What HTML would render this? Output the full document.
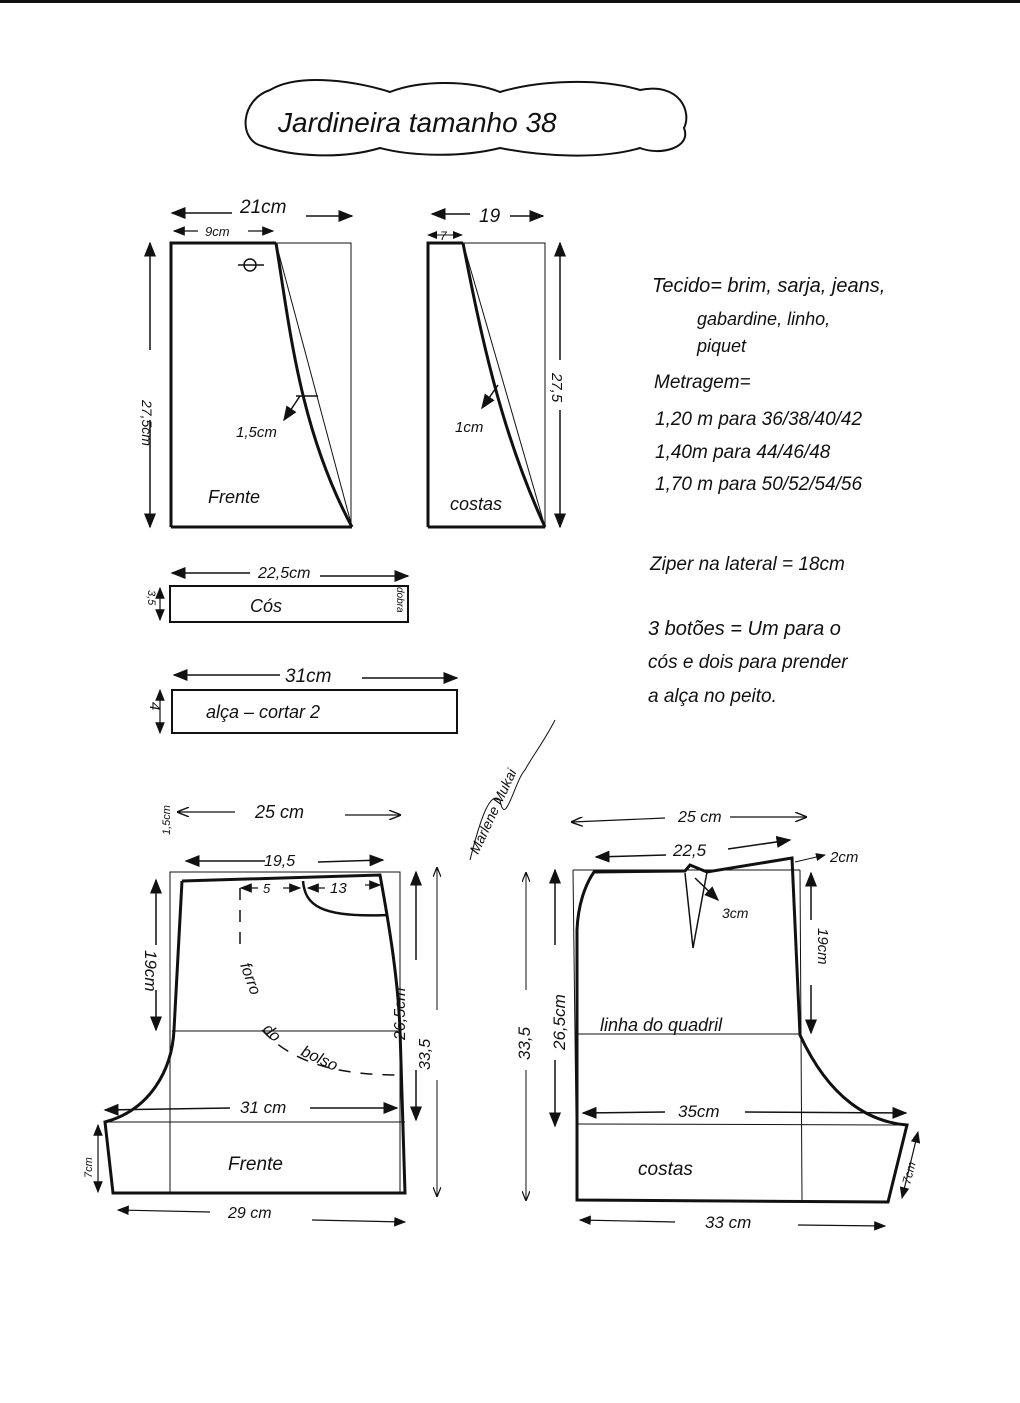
<!DOCTYPE html>
<html><head><meta charset="utf-8"><style>
html,body{margin:0;padding:0;background:#fff;}
svg{display:block}
text{font-family:"Liberation Sans",sans-serif;fill:#111;}
</style></head><body>
<svg width="1020" height="1403" viewBox="0 0 1020 1403" xmlns="http://www.w3.org/2000/svg">
<defs>
<marker id="a" markerWidth="10" markerHeight="8" refX="9" refY="4" orient="auto-start-reverse"><path d="M0,0 L10,4 L0,8 z" fill="#111"/></marker>
<marker id="o" markerWidth="10" markerHeight="8" refX="9" refY="4" orient="auto-start-reverse"><path d="M0,0 L10,4 L0,8" fill="none" stroke="#111" stroke-width="1.2"/></marker>
</defs>
<rect x="0" y="0" width="1020" height="3" fill="#111"/>
<path d="M270,90 C300,72 360,82 390,92 C420,80 470,80 500,92 C540,80 600,78 640,90 C680,82 692,112 684,128 C692,148 660,156 640,148 C600,160 540,156 500,148 C460,158 410,156 380,148 C340,160 290,156 262,146 C238,140 240,100 270,90 Z" fill="none" stroke="#111" stroke-width="2"/>
<text x="278" y="132" font-size="28" font-style="italic">Jardineira  tamanho 38</text>

<g stroke="#111" fill="none">
<rect x="171" y="243" width="180" height="284" stroke-width="1"/>
<path d="M171,527 L171,243 L276,243" stroke-width="3"/>
<line x1="171" y1="527" x2="352" y2="527" stroke-width="3"/>
<path d="M276,243 C290,330 300,430 352,527" stroke-width="3"/>
<line x1="276" y1="243" x2="352" y2="527" stroke-width="1"/>
<line x1="296" y1="396" x2="318" y2="396" stroke-width="1.5"/>
<line x1="300" y1="396" x2="284" y2="420" stroke-width="1.5" marker-end="url(#a)"/>
<circle cx="250" cy="265" r="6" stroke-width="1.5"/>
<line x1="238" y1="265" x2="264" y2="265" stroke-width="1.5"/>
<line x1="172" y1="213" x2="232" y2="213" stroke-width="1.5" marker-start="url(#a)"/>
<line x1="306" y1="216" x2="352" y2="216" stroke-width="1.5" marker-end="url(#a)"/>
<line x1="174" y1="231" x2="198" y2="231" stroke-width="1.2" marker-start="url(#a)"/>
<line x1="248" y1="231" x2="273" y2="231" stroke-width="1.2" marker-end="url(#a)"/>
<line x1="150" y1="243" x2="150" y2="350" stroke-width="1.5" marker-start="url(#a)"/>
<line x1="150" y1="420" x2="150" y2="527" stroke-width="1.5" marker-end="url(#a)"/>
<rect x="428" y="243" width="117" height="284" stroke-width="1"/>
<path d="M428,527 L428,243 L463,243" stroke-width="3"/>
<line x1="428" y1="527" x2="545" y2="527" stroke-width="3"/>
<path d="M463,243 C480,330 500,430 545,527" stroke-width="3"/>
<line x1="463" y1="243" x2="545" y2="527" stroke-width="1"/>
<line x1="498" y1="385" x2="482" y2="408" stroke-width="1.5" marker-end="url(#a)"/>
<line x1="432" y1="214" x2="470" y2="214" stroke-width="1.5" marker-start="url(#a)"/>
<line x1="510" y1="216" x2="543" y2="216" stroke-width="1.5" marker-end="url(#a)"/>
<line x1="428" y1="235" x2="462" y2="235" stroke-width="1" marker-start="url(#a)" marker-end="url(#a)"/>
<line x1="560" y1="243" x2="560" y2="360" stroke-width="1.5" marker-start="url(#a)"/>
<line x1="560" y1="410" x2="560" y2="527" stroke-width="1.5" marker-end="url(#a)"/>
<rect x="170" y="586" width="238" height="36" stroke-width="2"/>
<line x1="172" y1="573" x2="250" y2="573" stroke-width="1.5" marker-start="url(#a)"/>
<line x1="320" y1="576" x2="408" y2="576" stroke-width="1.5" marker-end="url(#a)"/>
<line x1="160" y1="588" x2="160" y2="620" stroke-width="1.2" marker-start="url(#a)" marker-end="url(#a)"/>
<rect x="172" y="690" width="285" height="43" stroke-width="2"/>
<line x1="174" y1="675" x2="280" y2="675" stroke-width="1.5" marker-start="url(#a)"/>
<line x1="362" y1="678" x2="457" y2="678" stroke-width="1.5" marker-end="url(#a)"/>
<line x1="160" y1="690" x2="160" y2="733" stroke-width="1.2" marker-start="url(#a)" marker-end="url(#a)"/>

<rect x="170" y="872" width="230" height="321" stroke-width="1"/>
<line x1="172" y1="1031" x2="400" y2="1031" stroke-width="1"/>
<line x1="105" y1="1122" x2="405" y2="1122" stroke-width="1"/>
<path d="M182,881 L380,875 C390,930 398,980 400,1030 L405,1193 L113,1193 L105,1122 C150,1110 172,1070 174,1030 L182,881" stroke-width="3"/>
<path d="M303,881 C305,905 320,918 388,915" stroke-width="2.5"/>
<path d="M240,888 L240,950 M262,1030 C290,1060 330,1075 400,1075" stroke-width="1.5" stroke-dasharray="12,10"/>
<line x1="178" y1="812" x2="235" y2="812" stroke-width="1.2" marker-start="url(#o)"/>
<line x1="345" y1="815" x2="400" y2="815" stroke-width="1.2" marker-end="url(#o)"/>
<line x1="186" y1="861" x2="265" y2="861" stroke-width="1.5" marker-start="url(#a)"/>
<line x1="318" y1="862" x2="383" y2="860" stroke-width="1.5" marker-end="url(#a)"/>
<line x1="241" y1="888" x2="258" y2="888" stroke-width="1.2" marker-start="url(#a)"/>
<line x1="283" y1="888" x2="300" y2="888" stroke-width="1.2" marker-end="url(#a)"/>
<line x1="308" y1="888" x2="325" y2="888" stroke-width="1.2" marker-start="url(#a)"/>
<line x1="365" y1="885" x2="380" y2="885" stroke-width="1.2" marker-end="url(#a)"/>
<line x1="156" y1="880" x2="156" y2="945" stroke-width="1.5" marker-start="url(#a)"/>
<line x1="156" y1="990" x2="156" y2="1030" stroke-width="1.5" marker-end="url(#a)"/>
<line x1="416" y1="872" x2="416" y2="960" stroke-width="1.5" marker-start="url(#a)"/>
<line x1="416" y1="1070" x2="416" y2="1120" stroke-width="1.5" marker-end="url(#a)"/>
<line x1="437" y1="868" x2="437" y2="1010" stroke-width="1" marker-start="url(#o)"/>
<line x1="437" y1="1080" x2="437" y2="1196" stroke-width="1" marker-end="url(#o)"/>
<line x1="105" y1="1110" x2="230" y2="1108" stroke-width="1.5" marker-start="url(#a)"/>
<line x1="310" y1="1108" x2="397" y2="1108" stroke-width="1.5" marker-end="url(#a)"/>
<line x1="118" y1="1210" x2="210" y2="1212" stroke-width="1.2" marker-start="url(#a)"/>
<line x1="312" y1="1220" x2="405" y2="1222" stroke-width="1.2" marker-end="url(#a)"/>
<line x1="98" y1="1125" x2="98" y2="1192" stroke-width="1.2" marker-start="url(#a)" marker-end="url(#a)"/>

<line x1="573" y1="870" x2="800" y2="870" stroke-width="1"/>
<line x1="573" y1="870" x2="577" y2="1200" stroke-width="1"/>
<line x1="800" y1="870" x2="802" y2="1200" stroke-width="1"/>
<line x1="578" y1="1034" x2="800" y2="1034" stroke-width="1"/>
<line x1="578" y1="1124" x2="907" y2="1125" stroke-width="1"/>
<path d="M594,872 L685,871 L690,865 L707,872 L792,858 L800,1035 C830,1100 870,1122 907,1125 L888,1202 L577,1200 L577,930 C578,905 585,885 594,872 Z" stroke-width="3"/>
<path d="M685,873 L693,948 L707,872" stroke-width="1.5"/>
<line x1="695" y1="878" x2="718" y2="900" stroke-width="1.5" marker-end="url(#a)"/>
<line x1="572" y1="822" x2="665" y2="818" stroke-width="1.2" marker-start="url(#o)"/>
<line x1="730" y1="817" x2="806" y2="817" stroke-width="1.2" marker-end="url(#o)"/>
<line x1="596" y1="857" x2="666" y2="855" stroke-width="1.5" marker-start="url(#a)"/>
<line x1="728" y1="849" x2="790" y2="840" stroke-width="1.5" marker-end="url(#a)"/>
<line x1="795" y1="862" x2="825" y2="855" stroke-width="1" marker-end="url(#a)"/>
<line x1="555" y1="870" x2="555" y2="945" stroke-width="1.5" marker-start="url(#a)"/>
<line x1="555" y1="1060" x2="555" y2="1126" stroke-width="1.5" marker-end="url(#a)"/>
<line x1="526" y1="873" x2="526" y2="990" stroke-width="1" marker-start="url(#o)"/>
<line x1="526" y1="1070" x2="526" y2="1200" stroke-width="1" marker-end="url(#o)"/>
<line x1="811" y1="873" x2="811" y2="920" stroke-width="1.5" marker-start="url(#a)"/>
<line x1="811" y1="985" x2="811" y2="1033" stroke-width="1.5" marker-end="url(#a)"/>
<line x1="583" y1="1113" x2="665" y2="1112" stroke-width="1.5" marker-start="url(#a)"/>
<line x1="745" y1="1112" x2="906" y2="1113" stroke-width="1.5" marker-end="url(#a)"/>
<line x1="580" y1="1220" x2="675" y2="1222" stroke-width="1.2" marker-start="url(#a)"/>
<line x1="798" y1="1225" x2="885" y2="1226" stroke-width="1.2" marker-end="url(#a)"/>
<line x1="918" y1="1132" x2="902" y2="1198" stroke-width="1.2" marker-start="url(#a)" marker-end="url(#a)"/>
<path d="M470,860 C480,820 490,790 500,800 C505,830 515,780 525,770 C530,760 545,740 555,720" stroke-width="1"/>
</g>

<g font-style="italic">
<text x="240" y="213" font-size="19">21cm</text>
<text x="205" y="236" font-size="13">9cm</text>
<text x="236" y="437" font-size="15">1,5cm</text>
<text x="208" y="503" font-size="18">Frente</text>
<text x="142" y="400" font-size="14" transform="rotate(90 142 400)">27,5cm</text>
<text x="479" y="222" font-size="19">19</text>
<text x="440" y="240" font-size="12">7</text>
<text x="455" y="432" font-size="15">1cm</text>
<text x="450" y="510" font-size="18">costas</text>
<text x="552" y="373" font-size="15" transform="rotate(90 552 373)">27,5</text>
<text x="258" y="578" font-size="16">22,5cm</text>
<text x="250" y="612" font-size="18">Cós</text>
<text x="397" y="587" font-size="10" transform="rotate(90 397 587)">dobra</text>
<text x="148" y="590" font-size="11" transform="rotate(90 148 590)">3,5</text>
<text x="285" y="682" font-size="19">31cm</text>
<text x="206" y="718" font-size="18">alça  – cortar 2</text>
<text x="150" y="702" font-size="15" transform="rotate(90 150 702)">4</text>
<text x="652" y="292" font-size="20">Tecido= brim, sarja, jeans,</text>
<text x="697" y="325" font-size="18">gabardine, linho,</text>
<text x="697" y="352" font-size="18">piquet</text>
<text x="654" y="388" font-size="19">Metragem=</text>
<text x="655" y="425" font-size="19">1,20 m  para   36/38/40/42</text>
<text x="655" y="458" font-size="19">1,40m  para   44/46/48</text>
<text x="655" y="490" font-size="19">1,70 m  para  50/52/54/56</text>
<text x="650" y="570" font-size="19">Ziper  na  lateral = 18cm</text>
<text x="648" y="635" font-size="20">3 botões = Um  para  o</text>
<text x="648" y="668" font-size="19">cós  e  dois  para  prender</text>
<text x="648" y="702" font-size="19">a  alça  no  peito.</text>
<text x="255" y="818" font-size="18">25 cm</text>
<text x="264" y="866" font-size="16">19,5</text>
<text x="263" y="893" font-size="13">5</text>
<text x="330" y="893" font-size="15">13</text>
<text x="170" y="835" font-size="11" transform="rotate(-90 170 835)">1,5cm</text>
<text x="145" y="950" font-size="17" transform="rotate(90 145 950)">19cm</text>
<text x="240" y="965" font-size="16" transform="rotate(70 240 965)">forro</text>
<text x="262" y="1030" font-size="16" transform="rotate(45 262 1030)">do</text>
<text x="300" y="1055" font-size="16" transform="rotate(25 300 1055)">bolso</text>
<text x="405" y="1040" font-size="16" transform="rotate(-90 405 1040)">26,5cm</text>
<text x="430" y="1070" font-size="16" transform="rotate(-90 430 1070)">33,5</text>
<text x="240" y="1113" font-size="17">31 cm</text>
<text x="228" y="1170" font-size="19">Frente</text>
<text x="228" y="1218" font-size="16">29 cm</text>
<text x="92" y="1178" font-size="11" transform="rotate(-90 92 1178)">7cm</text>
<text x="678" y="822" font-size="16">25 cm</text>
<text x="673" y="856" font-size="17">22,5</text>
<text x="830" y="862" font-size="15">2cm</text>
<text x="722" y="918" font-size="14">3cm</text>
<text x="818" y="928" font-size="15" transform="rotate(90 818 928)">19cm</text>
<text x="600" y="1031" font-size="18">linha  do quadril</text>
<text x="565" y="1050" font-size="17" transform="rotate(-90 565 1050)">26,5cm</text>
<text x="530" y="1060" font-size="17" transform="rotate(-90 530 1060)">33,5</text>
<text x="678" y="1117" font-size="17">35cm</text>
<text x="638" y="1175" font-size="19">costas</text>
<text x="705" y="1228" font-size="17">33 cm</text>
<text x="910" y="1185" font-size="12" transform="rotate(-75 910 1185)">7cm</text>
<text x="478" y="855" font-size="14" transform="rotate(-65 478 855)">Marlene Mukai</text>
</g>
</svg>
</body></html>
